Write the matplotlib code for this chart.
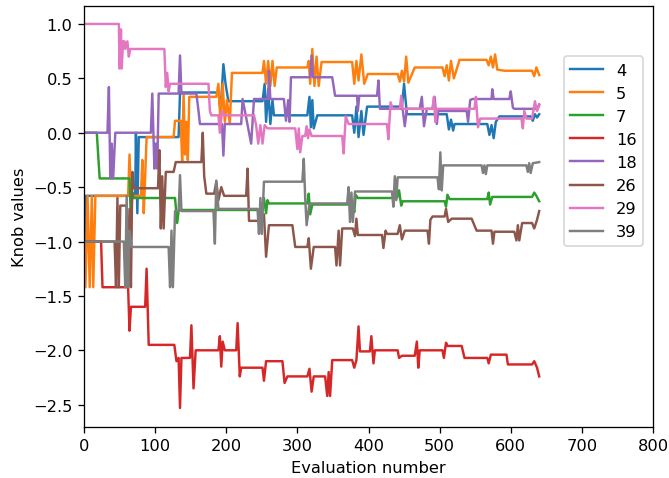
import matplotlib
matplotlib.use("Agg")
import matplotlib.pyplot as plt

labels = ["4", "5", "7", "16", "18", "26", "29", "39"]

knob_4 = [(0,-0.58),(1,-1.42),(3,-0.58),(72,-0.58),(73,0.0),(75,-0.74),(77,-0.04),(133,-0.04),(135,0.37),(189,0.37),(192,0.2),(196,0.63),(199,0.45),(203,0.29),(251,0.29),(254,0.45),(256,0.1),(259,0.4),(262,0.08),(265,0.3),(267,0.16),(314,0.16),(317,0.33),(319,0.05),(321,0.3),(323,0.04),(328,0.16),(377,0.16),(380,0.0),(383,0.24),(386,-0.04),(390,0.2),(393,-0.02),(398,0.24),(447,0.24),(450,0.45),(454,0.17),(510,0.17),(513,0.03),(516,0.12),(519,0.02),(521,0.08),(567,0.08),(570,-0.02),(573,0.07),(576,-0.05),(579,0.1),(584,0.15),(628,0.15),(631,0.11),(634,0.17),(637,0.14),(640,0.17)]

knob_5 = [(0,-1.0),(2,-1.42),(5,-0.58),(8,-1.42),(11,-0.58),(13,-1.42),(16,-0.58),(62,-0.58),(64,-0.2),(66,-0.58),(80,-0.58),(82,-0.25),(84,-0.74),(86,-0.4),(88,-0.04),(126,-0.04),(128,0.11),(136,0.11),(138,-0.26),(140,0.36),(142,-0.2),(144,0.1),(146,-0.25),(148,0.33),(186,0.33),(189,0.45),(192,0.08),(195,0.45),(198,0.1),(201,0.3),(205,0.08),(208,0.55),(251,0.55),(253,0.66),(256,0.45),(259,0.66),(262,0.43),(265,0.66),(268,0.43),(271,0.6),(314,0.6),(316,0.66),(318,0.45),(321,0.77),(324,0.43),(327,0.7),(330,0.43),(334,0.65),(377,0.65),(380,0.45),(383,0.66),(386,0.48),(390,0.72),(394,0.45),(399,0.54),(441,0.54),(444,0.47),(447,0.57),(450,0.47),(453,0.70),(456,0.46),(465,0.6),(504,0.6),(507,0.52),(510,0.62),(513,0.48),(516,0.66),(520,0.5),(528,0.67),(566,0.67),(569,0.62),(572,0.70),(575,0.6),(578,0.72),(581,0.58),(591,0.57),(630,0.57),(633,0.52),(636,0.6),(640,0.53)]

knob_7 = [(0,0.0),(18,0.0),(22,-0.42),(64,-0.42),(66,-0.81),(68,-0.55),(70,-0.6),(128,-0.6),(131,-0.83),(133,-0.72),(135,-0.71),(251,-0.71),(253,-0.6),(256,-0.74),(258,-0.62),(260,-0.65),(314,-0.65),(316,-0.56),(318,-0.75),(321,-0.66),(378,-0.66),(380,-0.73),(382,-0.57),(385,-0.6),(440,-0.6),(443,-0.53),(446,-0.67),(448,-0.63),(507,-0.63),(509,-0.68),(511,-0.57),(514,-0.61),(567,-0.61),(569,-0.55),(571,-0.66),(574,-0.59),(630,-0.59),(633,-0.55),(636,-0.58),(640,-0.63)]

knob_16 = [(0,-1.0),(24,-1.0),(26,-1.42),(62,-1.42),(64,-1.82),(66,-1.60),(86,-1.60),(88,-1.25),(91,-1.95),(127,-1.95),(130,-2.10),(133,-2.07),(135,-2.53),(137,-2.07),(149,-2.07),(151,-1.77),(154,-2.35),(157,-2.0),(189,-2.0),(191,-1.87),(193,-2.15),(195,-1.92),(198,-2.0),(214,-2.0),(216,-1.75),(219,-2.24),(221,-2.16),(251,-2.16),(253,-2.28),(256,-2.10),(279,-2.10),(282,-2.30),(286,-2.24),(314,-2.24),(317,-2.17),(320,-2.38),(323,-2.24),(339,-2.24),(342,-2.42),(344,-2.2),(346,-2.42),(349,-2.09),(377,-2.09),(380,-2.16),(383,-2.09),(386,-1.78),(388,-2.01),(402,-2.01),(404,-1.87),(407,-2.12),(409,-2.0),(441,-2.0),(443,-2.07),(447,-2.05),(465,-2.05),(468,-1.92),(470,-2.16),(472,-2.0),(504,-2.0),(506,-2.07),(509,-1.93),(511,-1.96),(531,-1.96),(535,-2.07),(567,-2.07),(569,-2.12),(572,-2.04),(594,-2.04),(596,-2.13),(630,-2.13),(633,-2.10),(637,-2.16),(640,-2.24)]

knob_18 = [(0,0.0),(33,0.0),(35,0.42),(37,-0.42),(39,-0.1),(41,-0.42),(44,0.0),(94,0.0),(96,0.36),(99,-0.33),(101,-0.1),(103,-0.33),(105,0.36),(133,0.36),(135,0.71),(137,0.36),(158,0.36),(161,0.2),(163,0.08),(194,0.08),(196,-0.21),(198,0.08),(221,0.08),(223,0.31),(235,-0.1),(237,0.1),(239,0.31),(259,0.31),(260,0.57),(262,0.31),(281,0.31),(284,0.11),(287,0.3),(289,0.1),(291,0.51),(318,0.51),(320,0.71),(322,0.51),(349,0.51),(353,0.34),(384,0.34),(385,0.2),(387,0.34),(412,0.34),(414,0.48),(416,0.22),(448,0.22),(451,0.06),(454,0.22),(472,0.22),(475,0.33),(478,0.06),(482,0.22),(490,0.22),(493,0.33),(496,0.08),(498,0.2),(538,0.2),(540,0.1),(543,0.3),(546,0.31),(573,0.31),(574,0.40),(576,0.31),(598,0.31),(600,0.38),(603,0.23),(605,0.22),(637,0.22),(640,0.26)]

knob_26 = [(0,-1.0),(43,-1.0),(45,-1.42),(47,-0.6),(49,-1.42),(51,-0.67),(60,-0.67),(62,-1.42),(64,-0.7),(66,-1.42),(68,-0.36),(70,-0.51),(104,-0.51),(106,-0.16),(108,-0.88),(110,-0.4),(112,-0.88),(115,-0.36),(126,-0.36),(129,-0.27),(165,-0.27),(167,0.0),(169,-0.4),(172,-0.56),(183,-0.56),(186,-0.45),(189,-0.62),(193,-0.5),(197,-0.58),(228,-0.58),(230,-0.33),(232,-0.81),(251,-0.81),(253,-0.75),(256,-1.14),(260,-0.85),(293,-0.85),(297,-1.05),(314,-1.05),(316,-0.97),(319,-1.25),(323,-1.05),(353,-1.05),(355,-1.22),(358,-0.9),(360,-1.22),(363,-0.88),(378,-0.88),(381,-0.95),(383,-0.79),(385,-0.94),(419,-0.94),(421,-1.06),(424,-0.9),(426,-0.93),(441,-0.93),(444,-0.85),(447,-0.98),(451,-0.90),(483,-0.90),(485,-1.02),(487,-0.8),(490,-0.77),(507,-0.77),(509,-0.70),(512,-0.82),(517,-0.79),(545,-0.79),(552,-0.9),(573,-0.9),(575,-1.02),(577,-0.91),(605,-0.91),(608,-0.99),(610,-0.85),(612,-0.99),(616,-0.83),(630,-0.83),(633,-0.88),(637,-0.80),(640,-0.72)]

knob_29 = [(0,1.0),(49,1.0),(50,0.59),(52,0.95),(53,0.59),(55,0.84),(57,0.84),(58,0.77),(61,0.84),(63,0.70),(65,0.77),(113,0.77),(115,0.42),(117,0.55),(119,0.38),(121,0.45),(175,0.45),(177,0.2),(179,0.16),(189,0.16),(191,0.0),(194,0.2),(197,0.16),(239,0.16),(242,0.07),(245,-0.1),(248,0.07),(251,-0.1),(254,0.07),(258,0.04),(297,0.04),(300,-0.15),(302,0.04),(304,-0.18),(307,-0.03),(311,-0.03),(313,0.06),(315,-0.05),(317,0.03),(320,-0.03),(363,-0.03),(365,-0.19),(368,0.15),(372,0.08),(426,0.08),(428,-0.06),(431,0.28),(434,0.22),(444,0.22),(446,0.34),(448,0.22),(490,0.22),(492,0.33),(494,0.1),(496,0.22),(549,0.22),(551,0.33),(554,0.05),(557,0.13),(615,0.13),(617,0.04),(619,0.2),(622,0.13),(630,0.13),(634,0.29),(637,0.2),(640,0.25)]

knob_39 = [(0,-1.0),(56,-1.0),(58,-1.42),(60,-0.58),(62,-1.42),(64,-0.9),(67,-1.05),(119,-1.05),(121,-1.42),(123,-0.9),(125,-1.42),(128,-0.72),(133,-0.72),(135,-0.39),(137,-0.72),(182,-0.72),(184,-1.02),(186,-0.44),(189,-0.70),(244,-0.70),(246,-0.93),(248,-0.6),(250,-0.93),(253,-0.45),(307,-0.45),(309,-0.24),(311,-0.6),(313,-0.85),(317,-0.65),(370,-0.65),(372,-0.5),(374,-0.82),(376,-0.55),(378,-0.82),(381,-0.54),(433,-0.54),(435,-0.68),(437,-0.4),(439,-0.62),(441,-0.41),(497,-0.41),(499,-0.52),(501,-0.18),(503,-0.53),(505,-0.3),(559,-0.3),(561,-0.37),(563,-0.3),(565,-0.38),(567,-0.3),(622,-0.3),(624,-0.36),(626,-0.28),(628,-0.37),(631,-0.28),(640,-0.27)]

series = [knob_4, knob_5, knob_7, knob_16, knob_18, knob_26, knob_29, knob_39]

fig = plt.figure(figsize=(669/117, 479/117), dpi=117)
ax = fig.add_axes([84/669, 1-428/479, (653-84)/669, (428-7)/479])
for lab, pts in zip(labels, series):
    xs = [p[0] for p in pts]
    ys = [p[1] for p in pts]
    ax.plot(xs, ys, label=lab)

ax.set_xlim(0, 800)
ax.set_ylim(-2.705, 1.165)
ax.set_xticks(range(0, 801, 100))
ax.set_xlabel("Evaluation number")
ax.set_ylabel("Knob values")
ax.legend(loc="upper right", bbox_to_anchor=(0.9825, 0.881), borderaxespad=0)
fig.savefig("out.png", dpi=117)
